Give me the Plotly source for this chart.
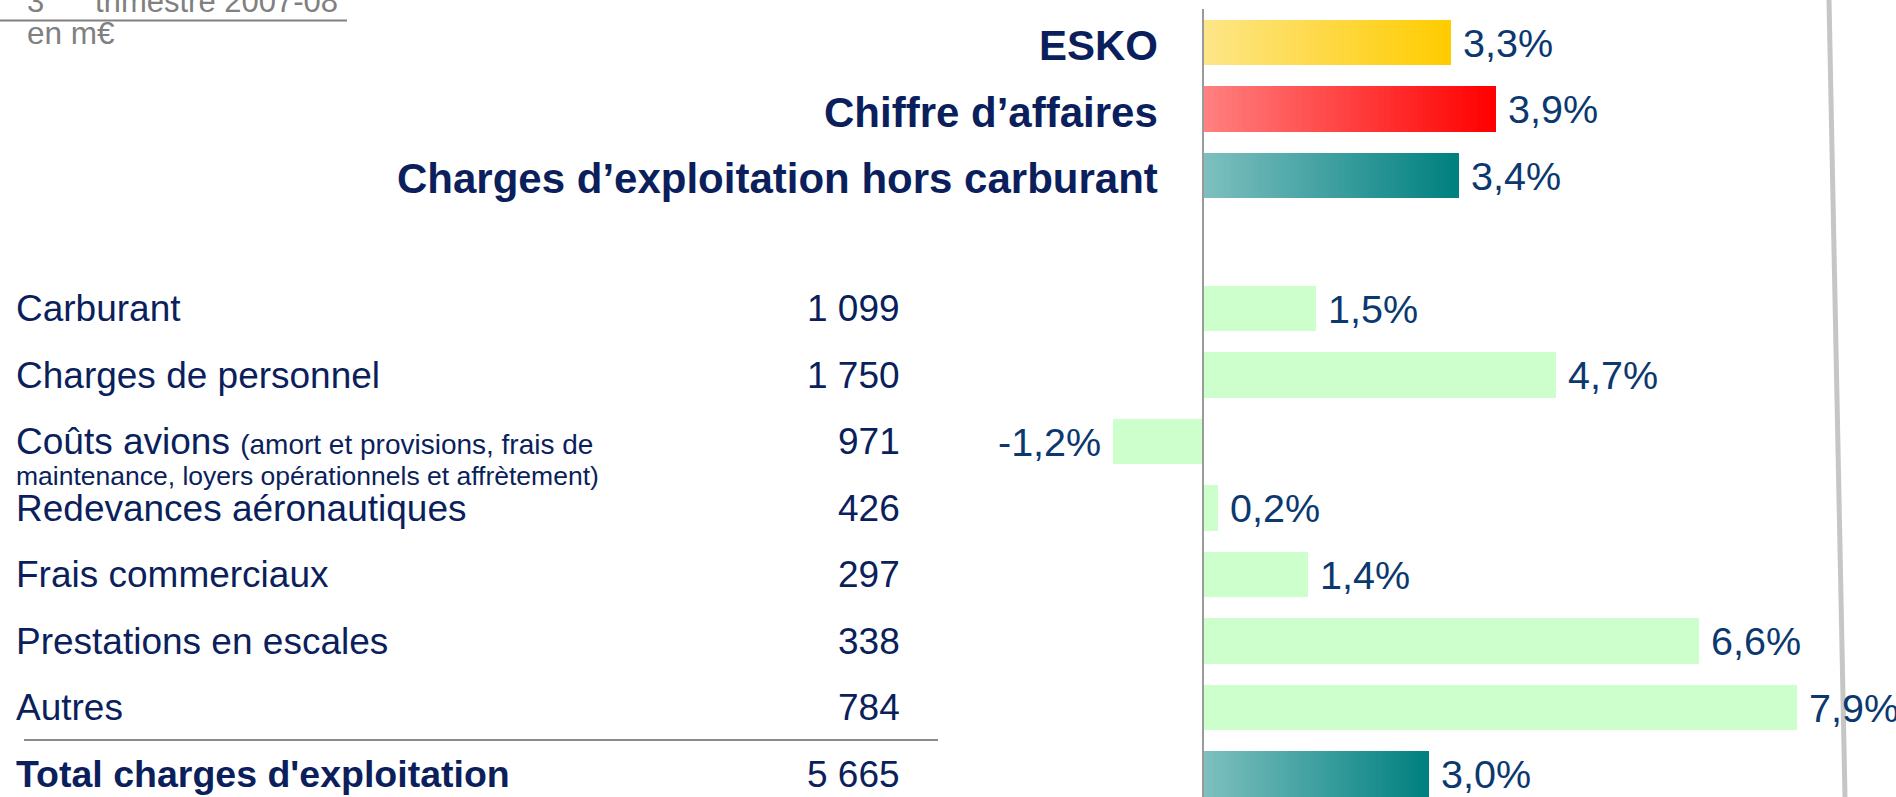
import plotly.graph_objects as go

# ---------------- data ----------------
headings = ["ESKO", "Chiffre d’affaires", "Charges d’exploitation hors carburant"]
heading_values = [3.3, 3.9, 3.4]

cost_labels = ["Carburant", "Charges de personnel", "Coûts avions", "Redevances aéronautiques",
               "Frais commerciaux", "Prestations en escales", "Autres"]
cost_notes = ["", "", "(amort et provisions, frais de", "", "", "", ""]
cost_notes2 = ["", "", "maintenance, loyers opérationnels et affrètement)", "", "", "", ""]
cost_amounts = ["1 099", "1 750", "971", "426", "297", "338", "784"]
cost_changes = [1.5, 4.7, -1.2, 0.2, 1.4, 6.6, 7.9]

total_label = "Total charges d'exploitation"
total_amount = "5 665"
total_change = 3.0

period_num = "3"
period_sup = "ème"
period_text = "trimestre 2007-08"
unit_text = "en m€"

# ---------------- layout constants ----------------
W, H = 1896, 797
ZERO_PX = 1203
PX_PER_PCT = 75.2
SLOT = 66.5
Y0 = 42.5
x_range = [-ZERO_PX / PX_PER_PCT, (W - ZERO_PX) / PX_PER_PCT]
y_top = -Y0 / SLOT
y_bot = (H - Y0) / SLOT
BAR_W = 0.68

heading_slots = [0, 1, 2]
cost_slots = [4, 5, 6, 7, 8, 9, 10]
total_slot = 11

NAVY = "#0b1f5c"
PCT = "#0c3870"
FONT = "Liberation Sans, Arial, sans-serif"

fig = go.Figure()

# gradient bars (drawn as overlaid steps)
grad_values = heading_values + [total_change]
grad_slots = heading_slots + [total_slot]
grad_colors = [((253, 230, 138), (255, 204, 0)),
               ((255, 130, 130), (255, 0, 0)),
               ((128, 192, 192), (0, 128, 128)),
               ((128, 192, 192), (0, 128, 128))]
N = 60
for j in range(N):
    frac = (N - j) / N
    cols = []
    for (c0, c1) in grad_colors:
        c = tuple(round(c0[k] + (c1[k] - c0[k]) * frac) for k in range(3))
        cols.append("rgb(%d,%d,%d)" % c)
    fig.add_trace(go.Bar(
        x=[v * frac for v in grad_values], y=grad_slots, orientation="h",
        width=BAR_W, marker=dict(color=cols, line=dict(width=0)),
        hoverinfo="skip", showlegend=False))

# light green cost bars
fig.add_trace(go.Bar(
    x=cost_changes, y=cost_slots, orientation="h", width=BAR_W,
    marker=dict(color="#ccffcc", line=dict(width=0)),
    hoverinfo="skip", showlegend=False))

def fmt(v):
    return ("%.1f" % v).replace(".", ",") + "%"

ann = []
for v, s in zip(grad_values + cost_changes, grad_slots + cost_slots):
    ann.append(dict(x=v, y=s, xref="x", yref="y", text=fmt(v), showarrow=False,
                    xanchor="left" if v >= 0 else "right", xshift=10 if v >= 0 else -10,
                    yanchor="middle", font=dict(family=FONT, size=39.5, color=PCT)))

# headings
for t, s in zip(headings, heading_slots):
    ann.append(dict(x=1160 / W, y=s, xref="paper", yref="y", text="<b>%s</b>" % t,
                    showarrow=False, xanchor="right", yanchor="middle", yshift=-3,
                    font=dict(family=FONT, size=42, color=NAVY)))

# cost labels and amounts
for lab, note, note2, amt, s in zip(cost_labels, cost_notes, cost_notes2, cost_amounts, cost_slots):
    txt = lab
    if note:
        txt += ' <span style="font-size:28px">%s</span>' % note
    ann.append(dict(x=14 / W, y=s, xref="paper", yref="y", text=txt, showarrow=False,
                    xanchor="left", yanchor="middle",
                    font=dict(family=FONT, size=37, color=NAVY)))
    if note2:
        ann.append(dict(x=14 / W, y=s + 34 / SLOT, xref="paper", yref="y", text=note2,
                        showarrow=False, xanchor="left", yanchor="middle",
                        font=dict(family=FONT, size=26.5, color=NAVY)))
    ann.append(dict(x=902 / W, y=s, xref="paper", yref="y", text=amt, showarrow=False,
                    xanchor="right", yanchor="middle",
                    font=dict(family=FONT, size=37, color=NAVY)))

ann.append(dict(x=14 / W, y=total_slot, xref="paper", yref="y", text="<b>%s</b>" % total_label,
                showarrow=False, xanchor="left", yanchor="middle",
                font=dict(family=FONT, size=37.5, color=NAVY)))
ann.append(dict(x=902 / W, y=total_slot, xref="paper", yref="y", text=total_amount,
                showarrow=False, xanchor="right", yanchor="middle",
                font=dict(family=FONT, size=37, color=NAVY)))

# top-left header (cut off at top)
ann.append(dict(x=25 / W, y=1 + 1 / H, xref="paper", yref="paper",
                text="%s<sup>%s</sup> %s" % (period_num, period_sup, period_text),
                showarrow=False, xanchor="left", yanchor="middle",
                font=dict(family=FONT, size=31, color="#808080")))
ann.append(dict(x=25 / W, y=1 - 33 / H, xref="paper", yref="paper", text=unit_text,
                showarrow=False, xanchor="left", yanchor="middle",
                font=dict(family=FONT, size=31.5, color="#808080")))

shapes = [
    # zero axis line
    dict(type="line", xref="x", yref="paper", x0=0, x1=0, y0=0, y1=1 - 9 / H,
         line=dict(color="#9a9a9a", width=2)),
    # separator above total
    dict(type="line", xref="paper", yref="paper", x0=24 / W, x1=938 / W,
         y0=1 - 740 / H, y1=1 - 740 / H, line=dict(color="#8c8c8c", width=2)),
    # line under header
    dict(type="line", xref="paper", yref="paper", x0=0, x1=347 / W,
         y0=1 - 20.5 / H, y1=1 - 20.5 / H, line=dict(color="#808080", width=2)),
    # decorative right line
    dict(type="line", xref="paper", yref="paper", x0=1829 / W, x1=1845 / W,
         y0=1, y1=0, line=dict(color="#c6c6c6", width=5), layer="below"),
]

fig.update_layout(
    width=W, height=H, margin=dict(l=0, r=0, t=0, b=0),
    paper_bgcolor="white", plot_bgcolor="white",
    barmode="overlay", bargap=0,
    xaxis=dict(range=x_range, visible=False, fixedrange=True),
    yaxis=dict(range=[y_bot, y_top], visible=False, fixedrange=True),
    annotations=ann, shapes=shapes, showlegend=False,
)

fig.write_html("out.html", config={"displayModeBar": False},
               post_script="document.body.style.margin='0';document.body.style.overflow='hidden';")
